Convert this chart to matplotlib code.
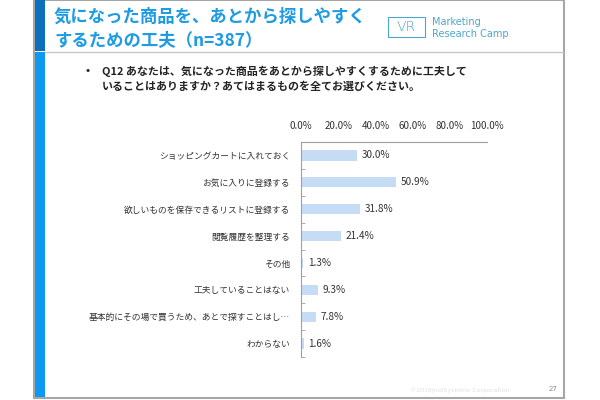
import matplotlib
matplotlib.use('Agg')
import matplotlib.pyplot as plt
from matplotlib.patches import Rectangle
from matplotlib.lines import Line2D
import numpy as np

plt.rcParams['font.family'] = ['Noto Sans CJK JP', 'DejaVu Sans']

categories = ['ショッピングカートに入れておく', 'お気に入りに登録する', '欲しいものを保存できるリストに登録する',
              '閲覧履歴を整理する', 'その他', '工夫していることはない',
              '基本的にその場で買うため、あとで探すことはし…', 'わからない']
values = [30.0, 50.9, 31.8, 21.4, 1.3, 9.3, 7.8, 1.6]
xticks = [0, 20, 40, 60, 80, 100]

title_lines = ['気になった商品を、あとから探しやすく', 'するための工夫（n=387）']
question_lines = ['Q12 あなたは、気になった商品をあとから探しやすくするために工夫して',
                  'いることはありますか？あてはまるものを全てお選びください。']

W, H = 600, 400
fig = plt.figure(figsize=(6, 4), dpi=100)

def fx(px):
    return px / W

def fy(py):
    return 1 - py / H

# slide frame
fig.add_artist(Rectangle((fx(34), fy(398)), fx(530), 398 / H, transform=fig.transFigure,
                         facecolor='white', edgecolor='#a6a6a6', linewidth=1.5, zorder=-5))
fig.add_artist(Rectangle((fx(35), fy(51)), fx(10), 51 / H, transform=fig.transFigure,
                         facecolor='#0a6fbd', edgecolor='none', zorder=-4))
fig.add_artist(Rectangle((fx(35), fy(397)), fx(10), 345 / H, transform=fig.transFigure,
                         facecolor='#0d99f2', edgecolor='none', zorder=-4))
fig.add_artist(Line2D([fx(45), fx(563)], [fy(52), fy(52)], transform=fig.transFigure,
                      color='#c8c8c8', linewidth=1, zorder=-4))

# title
for i, line in enumerate(title_lines):
    fig.text(fx(54), fy(17 + 23 * i), line, fontsize=12.5, color='#1e9be3',
             fontweight='bold', va='center', ha='left')

# logo
fig.add_artist(Rectangle((fx(388), fy(37)), fx(37), 20 / H, transform=fig.transFigure,
                         facecolor='none', edgecolor='#4aa6cc', linewidth=0.8))
fig.text(fx(406.5), fy(27), 'VR', fontsize=10, color='#4aa6cc', ha='center', va='center',
         family='DejaVu Sans', fontweight='light')
fig.text(fx(432), fy(22), 'Marketing', fontsize=7, color='#4aa6cc', ha='left', va='center',
         family='DejaVu Sans')
fig.text(fx(432), fy(34), 'Research Camp', fontsize=7, color='#4aa6cc', ha='left', va='center',
         family='DejaVu Sans')

# question
fig.text(fx(85), fy(71), '•', fontsize=9, color='#222222', ha='left', va='center')
for i, line in enumerate(question_lines):
    fig.text(fx(102), fy(71 + 16 * i), line, fontsize=7.9, color='#222222',
             fontweight='bold', ha='left', va='center')

# chart
ax = fig.add_axes([fx(301), fy(357), fx(487 - 301), (357 - 142) / H])
ax.patch.set_alpha(0)
y = np.arange(len(categories))
ax.barh(y, values, height=0.38, color='#c6dcf5')
ax.set_xlim(0, 100)
ax.set_ylim(len(categories) - 0.5, -0.5)
ax.xaxis.tick_top()
ax.set_xticks(xticks)
ax.set_xticklabels(['%.1f%%' % v for v in xticks], fontsize=7, color='#333333')
ax.tick_params(axis='x', length=0, pad=8)
ax.set_yticks(y)
ax.set_yticklabels(categories, fontsize=6.3, color='#333333')
ax.set_yticks(np.arange(len(categories) + 1) - 0.5, minor=True)
ax.tick_params(axis='y', which='major', length=0, pad=8)
ax.tick_params(axis='y', which='minor', length=3, direction='in', color='#a0a0a0')
for s in ['right', 'bottom']:
    ax.spines[s].set_visible(False)
for s in ['top', 'left']:
    ax.spines[s].set_color('#a0a0a0')
    ax.spines[s].set_linewidth(0.8)
for yi, v in zip(y, values):
    ax.text(v + 2.5, yi, '%.1f%%' % v, fontsize=7.2, color='#333333', va='center', ha='left')

# footer
fig.text(fx(410), fy(390), '©2016JustSystems Corporation', fontsize=4.5, color='#e0e0e0',
         ha='left', va='center', family='DejaVu Sans')
fig.text(fx(553), fy(389), '27', fontsize=5, color='#888888', ha='center', va='center',
         family='DejaVu Sans')

fig.savefig('out.png', dpi=100)
